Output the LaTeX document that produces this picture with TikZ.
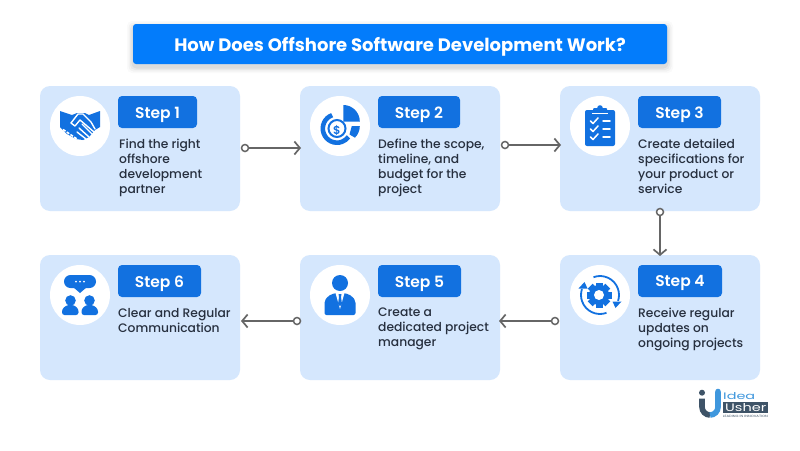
\documentclass[tikz,border=0pt]{standalone}
\usepackage{fontspec}
\setmainfont{Poppins}
\newfontfamily\popmed{Poppins Medium}
\newfontfamily\popsemi{Poppins SemiBold}
\usetikzlibrary{arrows.meta}
\definecolor{cardblue}{HTML}{D5E7FD}
\definecolor{stepblue}{HTML}{1271E0}
\definecolor{titleblue}{HTML}{037CFB}
\definecolor{bodyink}{HTML}{27303F}
\definecolor{linkgray}{HTML}{666666}
\definecolor{logoslate}{HTML}{3E5367}
\definecolor{logoblue}{HTML}{3F97DD}
\newcommand{\lowered}[1]{\raisebox{-2.4pt}[\height][\depth]{#1}}
\tikzset{
 card/.style={draw=none,fill=cardblue,rounded corners=10pt,minimum width=200pt,minimum height=125pt,inner sep=0pt},
 disc/.style={circle,fill=white,minimum size=60pt,inner sep=0pt},
 steptag/.style={fill=stepblue,rounded corners=4pt,minimum height=32pt,inner sep=0pt,text=white,font=\popsemi\fontsize{15.5}{16}\selectfont},
 body/.style={anchor=north west,inner sep=0pt,align=left,text=bodyink,font=\popmed\fontsize{12.3}{15}\selectfont},
 link/.style={draw=linkgray,line width=1.7pt,-{Straight Barb[length=5.5pt,width=13pt,line width=1.7pt]}},
 stub/.style={circle,draw=linkgray,line width=1.5pt,fill=white,minimum size=7pt,inner sep=0pt},
 ico/.style={fill=stepblue,draw=none},
 icoline/.style={draw=white,line width=1.4pt,line cap=round,line join=round,fill=none},
 icoring/.style={draw=stepblue,fill=none}
}
\begin{document}
\begin{tikzpicture}[x=1pt,y=-1pt]
\useasboundingbox (0,0) rectangle (800,450);
\fill[white] (0,0) rectangle (800,450);
% soft title shadow
\foreach \gr/\op in {6/.02,4.5/.03,3/.04,1.5/.05}{
 \fill[black,opacity=\op,rounded corners=5pt] (133-\gr,24+3-\gr) rectangle (667+\gr,64+3+\gr);
}
% title
\node[fill=titleblue,rounded corners=3pt,minimum width=534pt,minimum height=40pt,inner sep=0pt,
  text=white,font=\fontsize{18}{20}\selectfont\bfseries] (title) at (400,44) {\lowered{How Does Offshore Software Development Work?}};
% cards
\node[card] (c1) at (140,148.5) {};
\node[card] (c2) at (400,148.5) {};
\node[card] (c3) at (660,148.5) {};
\node[card] (c4) at (660,317.5) {};
\node[card] (c5) at (400,317.5) {};
\node[card] (c6) at (140,317.5) {};
% discs
\node[disc] (d1) at (80,126) {};
\node[disc] (d2) at (340,126) {};
\node[disc] (d3) at (600,126) {};
\node[disc] (d4) at (600,295) {};
\node[disc] (d5) at (340,295) {};
\node[disc] (d6) at (80,295) {};
% tags
\node[steptag,minimum width=79pt] (t1) at (157.5,112) {\lowered{Step 1}};
\node[steptag,minimum width=82pt] (t2) at (419,112) {\lowered{Step 2}};
\node[steptag,minimum width=83pt] (t3) at (679.5,112) {\lowered{Step 3}};
\node[steptag,minimum width=84pt] (t4) at (680,281) {\lowered{Step 4}};
\node[steptag,minimum width=83pt] (t5) at (419.5,281) {\lowered{Step 5}};
\node[steptag,minimum width=83pt] (t6) at (159.5,281) {\lowered{Step 6}};
% body
\node[body] (b1) at (119,138.5) {Find the right\\offshore\\development\\partner};
\node[body] (b2) at (378,138.5) {Define the scope,\\timeline, and\\budget for the\\project};
\node[body] (b3) at (638,138.5) {Create detailed\\specifications for\\your product or\\service};
\node[body] (b4) at (638,308) {Receive regular\\updates on\\ongoing projects};
\node[body] (b5) at (378,308) {Create a\\dedicated project\\manager};
\node[body] (b6) at (118,308) {Clear and Regular\\Communication};
% connectors
\node[stub] (s1) at (245,148) {}; \coordinate (e1) at (301,148);
\node[stub] (s2) at (505,145) {}; \coordinate (e2) at (561,145);
\node[stub] (s3) at (660,212) {}; \coordinate (e3) at (660,256);
\node[stub] (s4) at (555,321) {}; \coordinate (e4) at (499,321);
\node[stub] (s5) at (297,321) {}; \coordinate (e5) at (241,321);
\draw[link] (s1) -- (e1);
\draw[link] (s2) -- (e2);
\draw[link] (s3) -- (e3);
\draw[link] (s4) -- (e4);
\draw[link] (s5) -- (e5);
% handshake
\begin{scope}[shift={(80,126)}]
\fill[ico] (-20,-15) -- (-8,-11) -- (-3,-13) -- (5,-13) -- (9,-11) -- (20,-15) -- (20,1) -- (15,4) -- (9,11) -- (3,14) -- (-4,13) -- (-13,8) -- (-20,1) -- cycle;
\draw[icoline] (-9,-3) -- (-2,-12) -- (3,-12) -- (11,-4) -- (15,3);
\draw[icoline] (-9,-3) -- (-5,0) -- (0,-6) -- (14,6);
\draw[icoline] (2,-2) -- (12,8);
\draw[icoline] (-1,2) -- (9,11);
\draw[icoline] (-3,6) -- (6,13);
\draw[white,line width=1.6pt,dash pattern=on 3pt off 1.5pt] (-17,3.5) -- (-3,13);
\end{scope}
% pie + dollar
\begin{scope}[shift={(337,128.5)}]
\draw[icoring,line width=4.6pt] (-110:14.2) arc (-110:-324:14.2);
\draw[icoring,line width=2pt] (0,0) circle (8.5);
\node[text=stepblue,inner sep=0pt,font=\popsemi\fontsize{11.5}{12}\selectfont] (dollar) at (0,0) {\lowered{\$}};
\fill[ico] (6.3,-23.5) arc (-90:0:16.5) -- (6.3,-7) -- cycle;
\fill[ico] (14.8,-2.5) -- (22.8,-2.5) arc (0:45:16.5) -- (12.5,6) -- cycle;
\end{scope}
% clipboard
\begin{scope}[shift={(600,126)}]
\fill[ico,rounded corners=2pt] (-15,-16) rectangle (15,20);
\fill[ico,rounded corners=1pt] (-7,-18) rectangle (7,-13);
\fill[ico] (0,-18) circle (2.8);
\draw[white,line width=.8pt] (-8,-12.5) -- (8,-12.5);
\foreach \yy in {-5,3,11}{
 \draw[icoline,line width=1.5pt] (-9.5,\yy) -- (-7,\yy+2.5) -- (-2,\yy-3);
 \draw[icoline,line width=1.5pt] (3,\yy) -- (10,\yy);
}
\end{scope}
% gear and arrows
\begin{scope}[shift={(600,295)}]
\begin{scope}[shift={(-1,0)}]
\foreach \a in {0,45,...,315}{\fill[ico,rotate=\a] (-3.5,-12.5) rectangle (3.5,-8);}
\fill[ico] (0,0) circle (10);
\fill[white] (0,0) circle (5);
\end{scope}
\draw[icoring,line width=1.8pt] (-110:19) arc (-110:18:19);
\draw[icoring,line width=1.8pt] (70:19) arc (70:198:19);
\fill[ico] (15.5,13) -- (21.5,6.5) -- (12.5,6.5) -- cycle;
\fill[ico] (-15.5,-13) -- (-21.5,-6.5) -- (-12.5,-6.5) -- cycle;
\end{scope}
% person
\begin{scope}[shift={(340,295)}]
\fill[ico] (0,-12) circle (8);
\fill[ico,rounded corners=2pt] (-15.5,20) -- (-15.5,6) -- (-12,1) -- (-5,-2) -- (5,-2) -- (12,1) -- (15.5,6) -- (15.5,20) -- cycle;
\fill[white] (-4.5,-2) -- (0,14) -- (4.5,-2) -- cycle;
\fill[ico] (-1.5,-1) -- (1.5,-1) -- (1,2) -- (2,9) -- (0,11) -- (-2,9) -- (-1,2) -- cycle;
\end{scope}
% chat people
\begin{scope}[shift={(80,295)}]
\fill[ico,rounded corners=6.5pt] (-16,-20) rectangle (16,-7);
\fill[ico] (-7,-8) -- (7,-8) -- (0,-2) -- cycle;
\foreach \xx in {-4,0,4}{\fill[white] (\xx,-13.5) circle (1);}
\fill[ico] (-9.5,5.5) circle (5.3);
\fill[ico] (9.5,5.5) circle (5.3);
\fill[ico,rounded corners=2.5pt] (-18,20) -- (-18,14) -- (-13,10) -- (-6,10) -- (-1.5,14) -- (-1.5,20) -- cycle;
\fill[ico,rounded corners=2.5pt] (18,20) -- (18,14) -- (13,10) -- (6,10) -- (1.5,14) -- (1.5,20) -- cycle;
\end{scope}
% logo
\fill[logoslate] (702,392.7) circle (3);
\draw[logoslate,line width=5.6pt] (702,398.5) -- (702,407) arc (180:90:8);
\draw[logoblue,line width=5.6pt] (710,415) arc (90:0:8) -- (718,392);
\fill[logoblue] (718,391.5) circle (2.8);
\fill[logoslate] (722.7,401.7) rectangle (768,413);
\node[inner sep=0pt,anchor=west,text=logoblue] (logoa) at (723,396.5) {\resizebox{32pt}{7pt}{Idea}};
\node[inner sep=0pt,anchor=west,text=white] (logob) at (725,407.4) {\resizebox{41pt}{8pt}{Usher}};
\node[inner sep=0pt,anchor=west,text=logoslate] (logoc) at (722.7,416) {\resizebox{45pt}{2.2pt}{LEADING IN INNOVATION}};
\end{tikzpicture}
\end{document}
